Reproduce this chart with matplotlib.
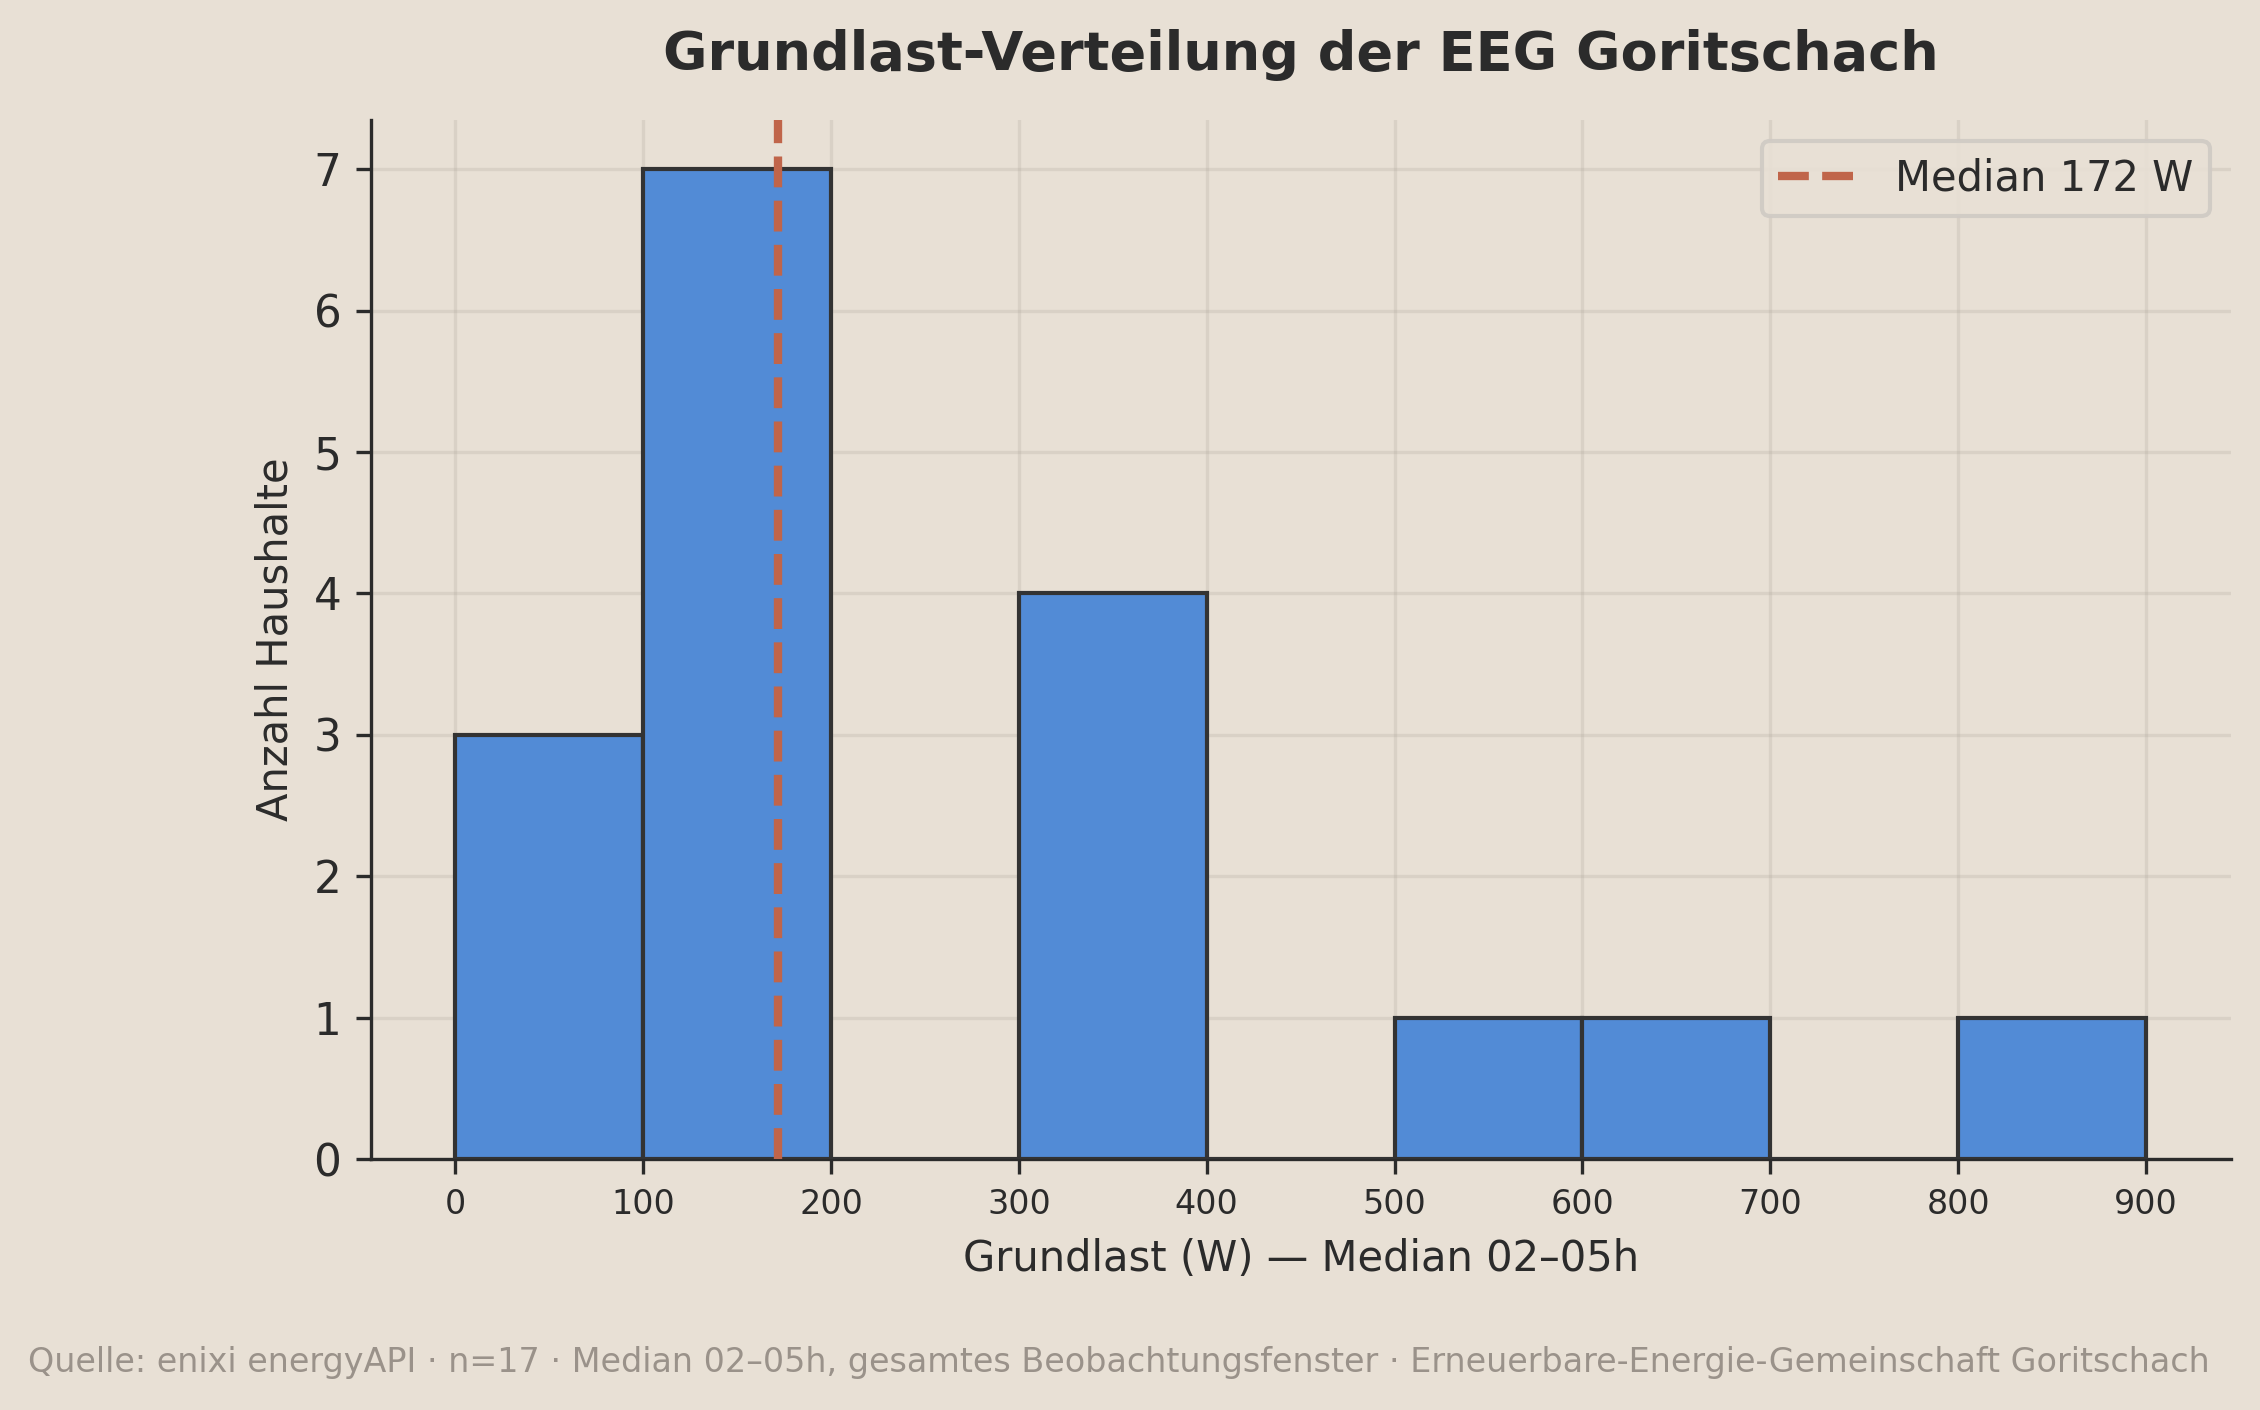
import numpy as np
import matplotlib
matplotlib.use('Agg')
import matplotlib.pyplot as plt

# Data: bin edges in W and household counts per bin
bin_edges = [0, 100, 200, 300, 400, 500, 600, 700, 800, 900]
counts = [3, 7, 0, 4, 0, 1, 1, 0, 1]
median_w = 172

title = 'Grundlast-Verteilung der EEG Goritschach'
xlabel = 'Grundlast (W) — Median 02–05h'
ylabel = 'Anzahl Haushalte'
footer = ('Quelle: enixi energyAPI · n=17 · Median 02–05h, gesamtes Beobachtungsfenster · '
          'Erneuerbare-Energie-Gemeinschaft Goritschach')

bg = '#e8e0d5'
ink = '#2b2b2b'

plt.rcParams['font.family'] = ['DejaVu Sans']
plt.rcParams['text.color'] = ink
plt.rcParams['axes.labelcolor'] = ink
plt.rcParams['xtick.color'] = ink
plt.rcParams['ytick.color'] = ink

fig = plt.figure(figsize=(7.5334, 4.7), dpi=300, facecolor=bg)
ax = fig.add_axes([0.164, 0.178, 0.823, 0.737])
ax.set_facecolor(bg)

centers = np.array(bin_edges[:-1]) + 50
ax.hist(centers, bins=bin_edges, weights=counts, color='#528bd6',
        edgecolor='#333333', linewidth=1.0, zorder=3)
ax.axvline(median_w, color='#c0654a', linestyle='--', linewidth=2,
           label=f'Median {median_w} W', zorder=4)

ax.set_xticks(range(0, 901, 100))
ax.tick_params(axis='x', labelsize=8)
ax.tick_params(axis='y', labelsize=10.5)
ax.grid(True, color='#b0a89c', alpha=0.25, linewidth=0.8, zorder=0)

for side in ['top', 'right']:
    ax.spines[side].set_visible(False)
for side in ['left', 'bottom']:
    ax.spines[side].set_color(ink)

ax.set_title(title, fontsize=13, fontweight='bold', pad=12)
ax.set_xlabel(xlabel, fontsize=10)
ax.set_ylabel(ylabel, fontsize=10)

leg = ax.legend(loc='upper right', fontsize=10, facecolor=bg,
                edgecolor='#cfcac4', framealpha=0.9)

fig.text(0.495, 0.034, footer, ha='center', va='center', fontsize=8, color='#9a928a')

fig.savefig('out.png', dpi=300, facecolor=bg)
